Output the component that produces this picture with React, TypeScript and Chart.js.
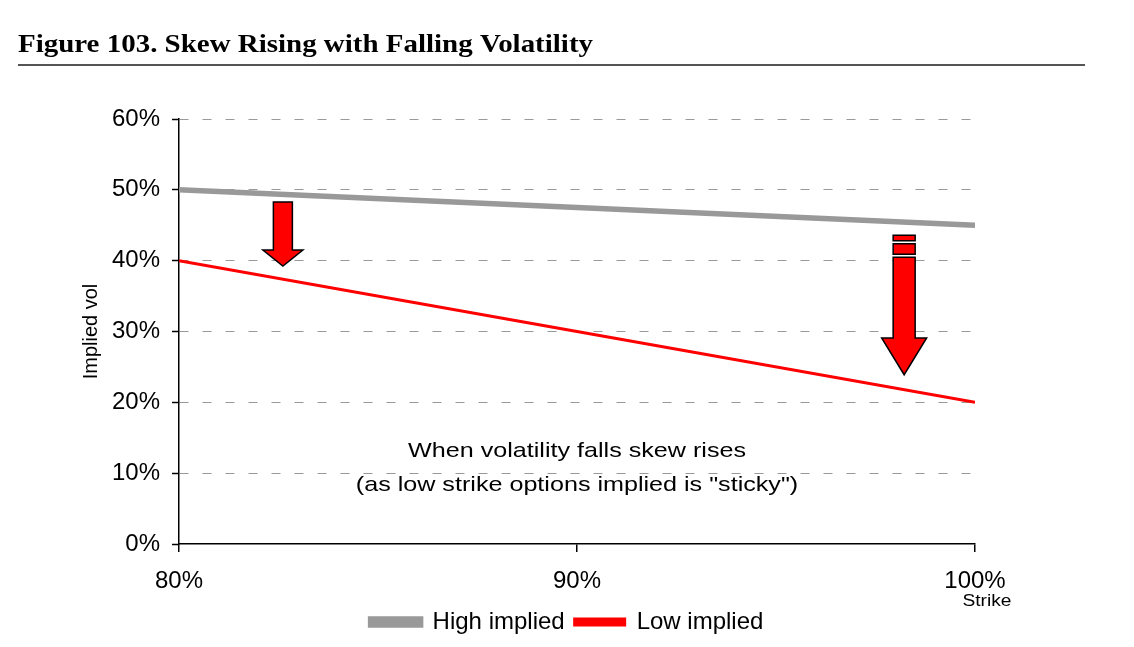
import React, { useEffect, useRef } from "react";
import { Chart, registerables } from "chart.js";

Chart.register(...registerables);

const strikes = [0.8, 0.9, 1.0];
const highImplied = [0.5, 0.475, 0.45];
const lowImplied = [0.4, 0.3, 0.2];
const xTicks = [0.8, 0.9, 1.0];
const seriesNames = ["High implied", "Low implied"];
const titleText = "Figure 103. Skew Rising with Falling Volatility";
const noteLines = ["When volatility falls skew rises", '(as low strike options implied is "sticky")'];

// arrows in data units: x, shaft top, head start, tip
const arrows = [
  { x: 0.8261, top: 0.483, head: 0.415, tip: 0.3925, shaftW: 19, headW: 40, bars: [] as number[][] },
  { x: 0.9822, top: 0.405, head: 0.291, tip: 0.239, shaftW: 22, headW: 45, bars: [[0.436, 0.428], [0.424, 0.409]] },
];

const SANS = "'Liberation Sans', Arial, sans-serif";

function drawScaled(ctx: any, text: string, x: number, y: number, sx: number) {
  ctx.save();
  ctx.translate(x, y);
  ctx.scale(sx, 1);
  ctx.fillText(text, 0, 0);
  ctx.restore();
}

function fitText(ctx: any, text: string, x: number, y: number, width: number) {
  const sx = width / ctx.measureText(text).width;
  drawScaled(ctx, text, x, y, sx);
  return sx;
}

const decorPlugin = {
  id: "decor",
  afterDraw(chart: any) {
    const ctx = chart.ctx;
    const xs = chart.scales.x;
    const ys = chart.scales.y;
    ctx.save();
    // title
    ctx.fillStyle = "#000";
    ctx.font = "bold 25px 'Liberation Serif', serif";
    ctx.textBaseline = "alphabetic";
    ctx.textAlign = "left";
    fitText(ctx, titleText, 18, 52, 575);
    // rule
    ctx.strokeStyle = "#555";
    ctx.lineWidth = 2;
    ctx.beginPath();
    ctx.moveTo(18, 65);
    ctx.lineTo(1085, 65);
    ctx.stroke();

    // arrows
    ctx.lineWidth = 1.5;
    ctx.strokeStyle = "#000";
    ctx.fillStyle = "#ff0000";
    ctx.lineJoin = "miter";
    for (const a of arrows) {
      const cx = xs.getPixelForValue(a.x);
      const yTop = ys.getPixelForValue(a.top);
      const yHead = ys.getPixelForValue(a.head);
      const yTip = ys.getPixelForValue(a.tip);
      const sw = a.shaftW / 2;
      const hw = a.headW / 2;
      ctx.beginPath();
      ctx.moveTo(cx - sw, yTop);
      ctx.lineTo(cx + sw, yTop);
      ctx.lineTo(cx + sw, yHead);
      ctx.lineTo(cx + hw, yHead);
      ctx.lineTo(cx, yTip);
      ctx.lineTo(cx - hw, yHead);
      ctx.lineTo(cx - sw, yHead);
      ctx.closePath();
      ctx.fill();
      ctx.stroke();
      for (const b of a.bars) {
        const y1 = ys.getPixelForValue(b[0]);
        const y2 = ys.getPixelForValue(b[1]);
        ctx.beginPath();
        ctx.rect(cx - sw, y1, sw * 2, y2 - y1);
        ctx.fill();
        ctx.stroke();
      }
    }

    // note text
    ctx.fillStyle = "#000";
    ctx.font = "21px " + SANS;
    ctx.textAlign = "center";
    ctx.textBaseline = "middle";
    const mid = (chart.chartArea.left + chart.chartArea.right) / 2;
    const sx = fitText(ctx, noteLines[0], mid, ys.getPixelForValue(0.131), 338);
    drawScaled(ctx, noteLines[1], mid, ys.getPixelForValue(0.083), sx);

    // Strike label
    ctx.font = "16px " + SANS;
    fitText(ctx, "Strike", xs.getPixelForValue(1.0) + 12, 602, 49);
    ctx.restore();
  },
};

export default function App() {
  const ref = useRef<HTMLCanvasElement>(null);
  useEffect(() => {
    if (!ref.current) return;
    const font = { family: SANS, size: 24 };
    const chart = new Chart(ref.current, {
      type: "line",
      data: {
        datasets: [
          {
            label: seriesNames[0],
            data: strikes.map((s, i) => ({ x: s, y: highImplied[i] })),
            borderColor: "#999999",
            backgroundColor: "#999999",
            borderWidth: 5.5,
            pointRadius: 0,
            tension: 0,
          },
          {
            label: seriesNames[1],
            data: strikes.map((s, i) => ({ x: s, y: lowImplied[i] })),
            borderColor: "#ff0000",
            backgroundColor: "#ff0000",
            borderWidth: 3,
            pointRadius: 0,
            tension: 0,
          },
        ],
      },
      options: {
        animation: false,
        responsive: false,
        layout: { padding: { top: 119, right: 0, left: 0, bottom: 3 } },
        plugins: {
          legend: {
            display: true,
            position: "bottom",
            labels: {
              font,
              color: "#000",
              boxWidth: 50,
              boxHeight: 6,
              padding: 10,
            },
          },
          tooltip: { enabled: false },
          title: { display: false },
        },
        scales: {
          x: {
            type: "linear",
            min: 0.8,
            max: 1.0,
            afterBuildTicks: (scale: any) => {
              scale.ticks = xTicks.map((v) => ({ value: v }));
            },
            afterFit: (scale: any) => {
              scale.height = 56;
            },
            ticks: {
              font,
              color: "#000",
              padding: 15,
              maxRotation: 0,
              callback: (v: any) => Math.round(Number(v) * 100) + "%",
            },
            grid: {
              drawOnChartArea: false,
              drawTicks: true,
              tickLength: 8,
              tickColor: "#000",
              lineWidth: 1.5,
            },
            border: { display: true, color: "#000", width: 1.5 },
          },
          y: {
            min: 0,
            max: 0.6,
            afterFit: (scale: any) => {
              scale.width = 179;
            },
            ticks: {
              font,
              color: "#000",
              stepSize: 0.1,
              padding: 12,
              callback: (v: any) => Math.round(Number(v) * 100) + "%",
            },
            grid: {
              color: (c: any) => (c.tick && c.tick.value === 0 ? "rgba(0,0,0,0)" : "#999999"),
              lineWidth: 1,
              drawTicks: true,
              tickLength: 7,
              tickColor: "#000",
              tickBorderDash: [],
              tickWidth: 1.5,
            } as any,
            border: { display: true, color: "#000", width: 1.5, dash: [9, 14], dashOffset: 0 },
            title: {
              display: true,
              text: "Implied vol",
              color: "#000",
              font: { family: SANS, size: 20 },
              padding: { top: 79, bottom: 0 },
            },
          },
          yRightSpace: {
            position: "right",
            display: true,
            min: 0,
            max: 1,
            afterFit: (scale: any) => {
              scale.width = 159;
            },
            ticks: { display: false },
            grid: { display: false, drawOnChartArea: false, drawTicks: false },
            border: { display: false },
          },
        },
      },
      plugins: [decorPlugin],
    } as any);
    return () => chart.destroy();
  }, []);
  return (
    <div style={{ position: "absolute", left: 0, top: 0, width: 1134, height: 647, background: "#fff" }}>
      <canvas ref={ref} width={1134} height={647} style={{ display: "block" }} />
    </div>
  );
}
